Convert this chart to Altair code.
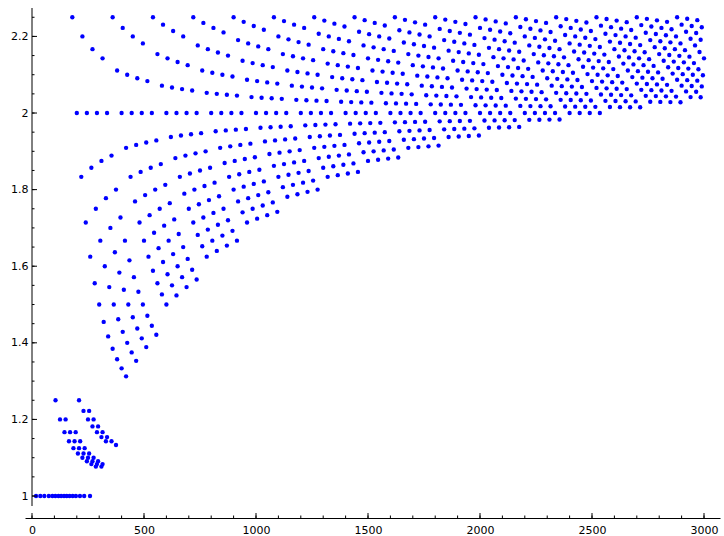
import altair as alt
import pandas as pd

# ---------------- data ----------------
# points on the y = 1 line (x positions)
ones_x = [18, 37, 55, 75, 91, 104, 118, 130, 143, 155, 168, 182, 196, 214, 233, 259]

# small clusters just above 1, written "x:numerator/denominator"
low_cluster_a = ["105:5/4", "125:6/5", "145:7/6", "165:8/7", "185:9/8", "205:10/9", "225:11/10", "245:12/11", "265:13/12", "285:14/13",
                 "150:6/5", "170:7/6", "190:8/7", "210:9/8", "230:10/9", "250:11/10", "270:12/11", "290:13/12", "310:14/13",
                 "195:7/6", "215:8/7", "235:9/8", "255:10/9", "275:11/10", "295:12/11", "315:13/12"]
low_cluster_b = ["210:10/8", "230:11/9", "250:12/10", "270:13/11", "290:14/12", "310:15/13", "330:16/14",
                 "255:11/9", "275:12/10", "295:13/11", "315:14/12", "335:15/13", "355:16/14", "375:17/15"]

# main families of curves, one list per family
fam_00 = ["180:9/4", "225:11/5", "270:13/6", "315:15/7", "360:18/8", "405:20/9", "450:22/10", "495:24/11",
          "540:27/12", "585:29/13", "630:31/14", "675:33/15", "720:36/16", "765:38/17", "810:40/18", "855:42/19",
          "900:45/20", "945:47/21", "990:49/22", "1035:51/23", "1080:54/24", "1125:56/25", "1170:58/26", "1215:60/27",
          "1260:63/28", "1305:65/29", "1350:67/30", "1395:69/31", "1440:72/32", "1485:74/33", "1530:76/34", "1575:78/35",
          "1620:81/36", "1665:83/37", "1710:85/38", "1755:87/39", "1800:90/40", "1845:92/41", "1890:94/42", "1935:96/43",
          "1980:99/44", "2025:101/45", "2070:103/46", "2115:105/47", "2160:108/48", "2205:110/49", "2250:112/50", "2295:114/51",
          "2340:117/52", "2385:119/53", "2430:121/54", "2475:123/55", "2520:126/56", "2565:128/57", "2610:130/58", "2655:132/59",
          "2700:135/60", "2745:137/61", "2790:139/62", "2835:141/63", "2880:144/64", "2925:146/65", "2970:148/66"]
fam_01 = ["200:10/5", "245:12/6", "290:14/7", "335:16/8", "380:19/9", "425:21/10", "470:23/11", "515:25/12",
          "560:28/13", "605:30/14", "650:32/15", "695:34/16", "740:37/17", "785:39/18", "830:41/19", "875:43/20",
          "920:46/21", "965:48/22", "1010:50/23", "1055:52/24", "1100:55/25", "1145:57/26", "1190:59/27", "1235:61/28",
          "1280:64/29", "1325:66/30", "1370:68/31", "1415:70/32", "1460:73/33", "1505:75/34", "1550:77/35", "1595:79/36",
          "1640:82/37", "1685:84/38", "1730:86/39", "1775:88/40", "1820:91/41", "1865:93/42", "1910:95/43", "1955:97/44",
          "2000:100/45", "2045:102/46", "2090:104/47", "2135:106/48", "2180:109/49", "2225:111/50", "2270:113/51", "2315:115/52",
          "2360:118/53", "2405:120/54", "2450:122/55", "2495:124/56", "2540:127/57", "2585:129/58", "2630:131/59", "2675:133/60",
          "2720:136/61", "2765:138/62", "2810:140/63", "2855:142/64", "2900:145/65", "2945:147/66", "2990:149/67"]
fam_02 = ["220:11/6", "265:13/7", "310:15/8", "355:17/9", "400:20/10", "445:22/11", "490:24/12", "535:26/13",
          "580:29/14", "625:31/15", "670:33/16", "715:35/17", "760:38/18", "805:40/19", "850:42/20", "895:44/21",
          "940:47/22", "985:49/23", "1030:51/24", "1075:53/25", "1120:56/26", "1165:58/27", "1210:60/28", "1255:62/29",
          "1300:65/30", "1345:67/31", "1390:69/32", "1435:71/33", "1480:74/34", "1525:76/35", "1570:78/36", "1615:80/37",
          "1660:83/38", "1705:85/39", "1750:87/40", "1795:89/41", "1840:92/42", "1885:94/43", "1930:96/44", "1975:98/45",
          "2020:101/46", "2065:103/47", "2110:105/48", "2155:107/49", "2200:110/50", "2245:112/51", "2290:114/52", "2335:116/53",
          "2380:119/54", "2425:121/55", "2470:123/56", "2515:125/57", "2560:128/58", "2605:130/59", "2650:132/60", "2695:134/61",
          "2740:137/62", "2785:139/63", "2830:141/64", "2875:143/65", "2920:146/66", "2965:148/67"]
fam_03 = ["240:12/7", "285:14/8", "330:16/9", "375:18/10", "420:21/11", "465:23/12", "510:25/13", "555:27/14",
          "600:30/15", "645:32/16", "690:34/17", "735:36/18", "780:39/19", "825:41/20", "870:43/21", "915:45/22",
          "960:48/23", "1005:50/24", "1050:52/25", "1095:54/26", "1140:57/27", "1185:59/28", "1230:61/29", "1275:63/30",
          "1320:66/31", "1365:68/32", "1410:70/33", "1455:72/34", "1500:75/35", "1545:77/36", "1590:79/37", "1635:81/38",
          "1680:84/39", "1725:86/40", "1770:88/41", "1815:90/42", "1860:93/43", "1905:95/44", "1950:97/45", "1995:99/46",
          "2040:102/47", "2085:104/48", "2130:106/49", "2175:108/50", "2220:111/51", "2265:113/52", "2310:115/53", "2355:117/54",
          "2400:120/55", "2445:122/56", "2490:124/57", "2535:126/58", "2580:129/59", "2625:131/60", "2670:133/61", "2715:135/62",
          "2760:138/63", "2805:140/64", "2850:142/65", "2895:144/66", "2940:147/67", "2985:149/68"]
fam_04 = ["260:13/8", "305:15/9", "350:17/10", "395:19/11", "440:22/12", "485:24/13", "530:26/14", "575:28/15",
          "620:31/16", "665:33/17", "710:35/18", "755:37/19", "800:40/20", "845:42/21", "890:44/22", "935:46/23",
          "980:49/24", "1025:51/25", "1070:53/26", "1115:55/27", "1160:58/28", "1205:60/29", "1250:62/30", "1295:64/31",
          "1340:67/32", "1385:69/33", "1430:71/34", "1475:73/35", "1520:76/36", "1565:78/37", "1610:80/38", "1655:82/39",
          "1700:85/40", "1745:87/41", "1790:89/42", "1835:91/43", "1880:94/44", "1925:96/45", "1970:98/46", "2015:100/47",
          "2060:103/48", "2105:105/49", "2150:107/50", "2195:109/51", "2240:112/52", "2285:114/53", "2330:116/54", "2375:118/55",
          "2420:121/56", "2465:123/57", "2510:125/58", "2555:127/59", "2600:130/60", "2645:132/61", "2690:134/62", "2735:136/63",
          "2780:139/64", "2825:141/65", "2870:143/66", "2915:145/67", "2960:148/68"]
fam_05 = ["280:14/9", "325:16/10", "370:18/11", "415:20/12", "460:23/13", "505:25/14", "550:27/15", "595:29/16",
          "640:32/17", "685:34/18", "730:36/19", "775:38/20", "820:41/21", "865:43/22", "910:45/23", "955:47/24",
          "1000:50/25", "1045:52/26", "1090:54/27", "1135:56/28", "1180:59/29", "1225:61/30", "1270:63/31", "1315:65/32",
          "1360:68/33", "1405:70/34", "1450:72/35", "1495:74/36", "1540:77/37", "1585:79/38", "1630:81/39", "1675:83/40",
          "1720:86/41", "1765:88/42", "1810:90/43", "1855:92/44", "1900:95/45", "1945:97/46", "1990:99/47", "2035:101/48",
          "2080:104/49", "2125:106/50", "2170:108/51", "2215:110/52", "2260:113/53", "2305:115/54", "2350:117/55", "2395:119/56",
          "2440:122/57", "2485:124/58", "2530:126/59", "2575:128/60", "2620:131/61", "2665:133/62", "2710:135/63", "2755:137/64",
          "2800:140/65", "2845:142/66", "2890:144/67", "2935:146/68", "2980:149/69"]
fam_06 = ["300:15/10", "345:17/11", "390:19/12", "435:21/13", "480:24/14", "525:26/15", "570:28/16", "615:30/17",
          "660:33/18", "705:35/19", "750:37/20", "795:39/21", "840:42/22", "885:44/23", "930:46/24", "975:48/25",
          "1020:51/26", "1065:53/27", "1110:55/28", "1155:57/29", "1200:60/30", "1245:62/31", "1290:64/32", "1335:66/33",
          "1380:69/34", "1425:71/35", "1470:73/36", "1515:75/37", "1560:78/38", "1605:80/39", "1650:82/40", "1695:84/41",
          "1740:87/42", "1785:89/43", "1830:91/44", "1875:93/45", "1920:96/46", "1965:98/47", "2010:100/48", "2055:102/49",
          "2100:105/50", "2145:107/51", "2190:109/52", "2235:111/53", "2280:114/54", "2325:116/55", "2370:118/56", "2415:120/57",
          "2460:123/58", "2505:125/59", "2550:127/60", "2595:129/61", "2640:132/62", "2685:134/63", "2730:136/64", "2775:138/65",
          "2820:141/66", "2865:143/67", "2910:145/68", "2955:147/69", "3000:150/70"]
fam_07 = ["320:16/11", "365:18/12", "410:20/13", "455:22/14", "500:25/15", "545:27/16", "590:29/17", "635:31/18",
          "680:34/19", "725:36/20", "770:38/21", "815:40/22", "860:43/23", "905:45/24", "950:47/25", "995:49/26",
          "1040:52/27", "1085:54/28", "1130:56/29", "1175:58/30", "1220:61/31", "1265:63/32", "1310:65/33", "1355:67/34",
          "1400:70/35", "1445:72/36", "1490:74/37", "1535:76/38", "1580:79/39", "1625:81/40", "1670:83/41", "1715:85/42",
          "1760:88/43", "1805:90/44", "1850:92/45", "1895:94/46", "1940:97/47", "1985:99/48", "2030:101/49", "2075:103/50",
          "2120:106/51", "2165:108/52", "2210:110/53", "2255:112/54", "2300:115/55", "2345:117/56", "2390:119/57", "2435:121/58",
          "2480:124/59", "2525:126/60", "2570:128/61", "2615:130/62", "2660:133/63", "2705:135/64", "2750:137/65", "2795:139/66",
          "2840:142/67", "2885:144/68", "2930:146/69", "2975:148/70"]
fam_08 = ["340:17/12", "385:19/13", "430:21/14", "475:23/15", "520:26/16", "565:28/17", "610:30/18", "655:32/19",
          "700:35/20", "745:37/21", "790:39/22", "835:41/23", "880:44/24", "925:46/25", "970:48/26", "1015:50/27",
          "1060:53/28", "1105:55/29", "1150:57/30", "1195:59/31", "1240:62/32", "1285:64/33", "1330:66/34", "1375:68/35",
          "1420:71/36", "1465:73/37", "1510:75/38", "1555:77/39", "1600:80/40", "1645:82/41", "1690:84/42", "1735:86/43",
          "1780:89/44", "1825:91/45", "1870:93/46", "1915:95/47", "1960:98/48", "2005:100/49", "2050:102/50", "2095:104/51",
          "2140:107/52", "2185:109/53", "2230:111/54", "2275:113/55", "2320:116/56", "2365:118/57", "2410:120/58", "2455:122/59",
          "2500:125/60", "2545:127/61", "2590:129/62", "2635:131/63", "2680:134/64", "2725:136/65", "2770:138/66", "2815:140/67",
          "2860:143/68", "2905:145/69", "2950:147/70", "2995:149/71"]
fam_09 = ["360:18/13", "405:20/14", "450:22/15", "495:24/16", "540:27/17", "585:29/18", "630:31/19", "675:33/20",
          "720:36/21", "765:38/22", "810:40/23", "855:42/24", "900:45/25", "945:47/26", "990:49/27", "1035:51/28",
          "1080:54/29", "1125:56/30", "1170:58/31", "1215:60/32", "1260:63/33", "1305:65/34", "1350:67/35", "1395:69/36",
          "1440:72/37", "1485:74/38", "1530:76/39", "1575:78/40", "1620:81/41", "1665:83/42", "1710:85/43", "1755:87/44",
          "1800:90/45", "1845:92/46", "1890:94/47", "1935:96/48", "1980:99/49", "2025:101/50", "2070:103/51", "2115:105/52",
          "2160:108/53", "2205:110/54", "2250:112/55", "2295:114/56", "2340:117/57", "2385:119/58", "2430:121/59", "2475:123/60",
          "2520:126/61", "2565:128/62", "2610:130/63", "2655:132/64", "2700:135/65", "2745:137/66", "2790:139/67", "2835:141/68",
          "2880:144/69", "2925:146/70", "2970:148/71"]
fam_10 = ["380:19/14", "425:21/15", "470:23/16", "515:25/17", "560:28/18", "605:30/19", "650:32/20", "695:34/21",
          "740:37/22", "785:39/23", "830:41/24", "875:43/25", "920:46/26", "965:48/27", "1010:50/28", "1055:52/29",
          "1100:55/30", "1145:57/31", "1190:59/32", "1235:61/33", "1280:64/34", "1325:66/35", "1370:68/36", "1415:70/37",
          "1460:73/38", "1505:75/39", "1550:77/40", "1595:79/41", "1640:82/42", "1685:84/43", "1730:86/44", "1775:88/45",
          "1820:91/46", "1865:93/47", "1910:95/48", "1955:97/49", "2000:100/50", "2045:102/51", "2090:104/52", "2135:106/53",
          "2180:109/54", "2225:111/55", "2270:113/56", "2315:115/57", "2360:118/58", "2405:120/59", "2450:122/60", "2495:124/61",
          "2540:127/62", "2585:129/63", "2630:131/64", "2675:133/65", "2720:136/66", "2765:138/67", "2810:140/68", "2855:142/69",
          "2900:145/70", "2945:147/71", "2990:149/72"]
fam_11 = ["400:20/15", "445:22/16", "490:24/17", "535:26/18", "580:29/19", "625:31/20", "670:33/21", "715:35/22",
          "760:38/23", "805:40/24", "850:42/25", "895:44/26", "940:47/27", "985:49/28", "1030:51/29", "1075:53/30",
          "1120:56/31", "1165:58/32", "1210:60/33", "1255:62/34", "1300:65/35", "1345:67/36", "1390:69/37", "1435:71/38",
          "1480:74/39", "1525:76/40", "1570:78/41", "1615:80/42", "1660:83/43", "1705:85/44", "1750:87/45", "1795:89/46",
          "1840:92/47", "1885:94/48", "1930:96/49", "1975:98/50", "2020:101/51", "2065:103/52", "2110:105/53", "2155:107/54",
          "2200:110/55", "2245:112/56", "2290:114/57", "2335:116/58", "2380:119/59", "2425:121/60", "2470:123/61", "2515:125/62",
          "2560:128/63", "2605:130/64", "2650:132/65", "2695:134/66", "2740:137/67", "2785:139/68", "2830:141/69", "2875:143/70",
          "2920:146/71", "2965:148/72"]
fam_12 = ["420:21/16", "465:23/17", "510:25/18", "555:27/19", "600:30/20", "645:32/21", "690:34/22", "735:36/23",
          "780:39/24", "825:41/25", "870:43/26", "915:45/27", "960:48/28", "1005:50/29", "1050:52/30", "1095:54/31",
          "1140:57/32", "1185:59/33", "1230:61/34", "1275:63/35", "1320:66/36", "1365:68/37", "1410:70/38", "1455:72/39",
          "1500:75/40", "1545:77/41", "1590:79/42", "1635:81/43", "1680:84/44", "1725:86/45", "1770:88/46", "1815:90/47",
          "1860:93/48", "1905:95/49", "1950:97/50", "1995:99/51", "2040:102/52", "2085:104/53", "2130:106/54", "2175:108/55",
          "2220:111/56", "2265:113/57", "2310:115/58", "2355:117/59", "2400:120/60", "2445:122/61", "2490:124/62", "2535:126/63",
          "2580:129/64", "2625:131/65", "2670:133/66", "2715:135/67", "2760:138/68", "2805:140/69", "2850:142/70", "2895:144/71",
          "2940:147/72", "2985:149/73"]

# axis tick values
x_major = [0, 500, 1000, 1500, 2000, 2500, 3000]
x_minor = [0, 100, 200, 300, 400, 500, 600, 700, 800, 900, 1000, 1100, 1200, 1300, 1400, 1500,
           1600, 1700, 1800, 1900, 2000, 2100, 2200, 2300, 2400, 2500, 2600, 2700, 2800, 2900, 3000]
y_major = [1.0, 1.2, 1.4, 1.6, 1.8, 2.0, 2.2]
y_minor = [1.0, 1.05, 1.1, 1.15, 1.2, 1.25, 1.3, 1.35, 1.4, 1.45, 1.5, 1.55, 1.6, 1.65, 1.7, 1.75,
           1.8, 1.85, 1.9, 1.95, 2.0, 2.05, 2.1, 2.15, 2.2, 2.25]

# ---------------- build table ----------------
rows = [{"x": float(v), "y": 1.0} for v in ones_x]
for group in [low_cluster_a, low_cluster_b, fam_00, fam_01, fam_02, fam_03, fam_04, fam_05,
              fam_06, fam_07, fam_08, fam_09, fam_10, fam_11, fam_12]:
    for item in group:
        xs, frac = item.split(":")
        num, den = frac.split("/")
        rows.append({"x": float(xs), "y": int(num) / int(den)})
df = pd.DataFrame(rows)

W, H = 695, 510
x_scale = alt.Scale(domain=[-31.25, 3071.4], nice=False, zero=False)
y_scale = alt.Scale(domain=[0.9426, 2.2742], nice=False, zero=False)
FONT = "DejaVu Sans"

x_axis = alt.Axis(values=x_major, format="d", title=None, grid=False, ticks=False, tickSize=0,
                  domain=True, domainColor="#000000", domainWidth=1, labelFlush=False,
                  labelFont=FONT, labelFontSize=11, labelColor="#000000", labelPadding=6)
y_axis = alt.Axis(values=y_major, format="~g", title=None, grid=False, ticks=False, tickSize=0,
                  domain=False, offset=-7, labelFlush=False,
                  labelFont=FONT, labelFontSize=11, labelColor="#000000", labelPadding=4)

points = alt.Chart(df).mark_circle(size=19, color="#0000ff", opacity=1).encode(
    x=alt.X("x:Q", scale=x_scale, axis=x_axis),
    y=alt.Y("y:Q", scale=y_scale, axis=y_axis),
)

one = alt.Data(values=[{"k": 1}])
y_line = alt.Chart(one).mark_rule(color="#000000", strokeWidth=1).encode(
    x=alt.value(7), y=alt.value(0), y2=alt.value(498))

xmaj = alt.Chart(pd.DataFrame({"x": x_major})).mark_rule(color="#000000", strokeWidth=1).encode(
    x=alt.X("x:Q", scale=x_scale, axis=x_axis), y=alt.value(H), y2=alt.value(H - 5))
xmin = alt.Chart(pd.DataFrame({"x": x_minor})).mark_rule(color="#000000", strokeWidth=1).encode(
    x=alt.X("x:Q", scale=x_scale, axis=x_axis), y=alt.value(H), y2=alt.value(H - 2.5))
ymaj = alt.Chart(pd.DataFrame({"y": y_major})).mark_rule(color="#000000", strokeWidth=1).encode(
    y=alt.Y("y:Q", scale=y_scale, axis=y_axis), x=alt.value(7), x2=alt.value(12))
ymin = alt.Chart(pd.DataFrame({"y": y_minor})).mark_rule(color="#000000", strokeWidth=1).encode(
    y=alt.Y("y:Q", scale=y_scale, axis=y_axis), x=alt.value(7), x2=alt.value(9.5))

chart = alt.layer(points, y_line, xmaj, xmin, ymaj, ymin).properties(
    width=W, height=H,
    padding={"left": 25, "top": 8, "right": 4, "bottom": 18},
    autosize=alt.AutoSizeParams(type="none"),
    background="#ffffff",
).configure_view(stroke=None)

chart.save("out.html", embed_options={"renderer": "svg", "actions": False})
